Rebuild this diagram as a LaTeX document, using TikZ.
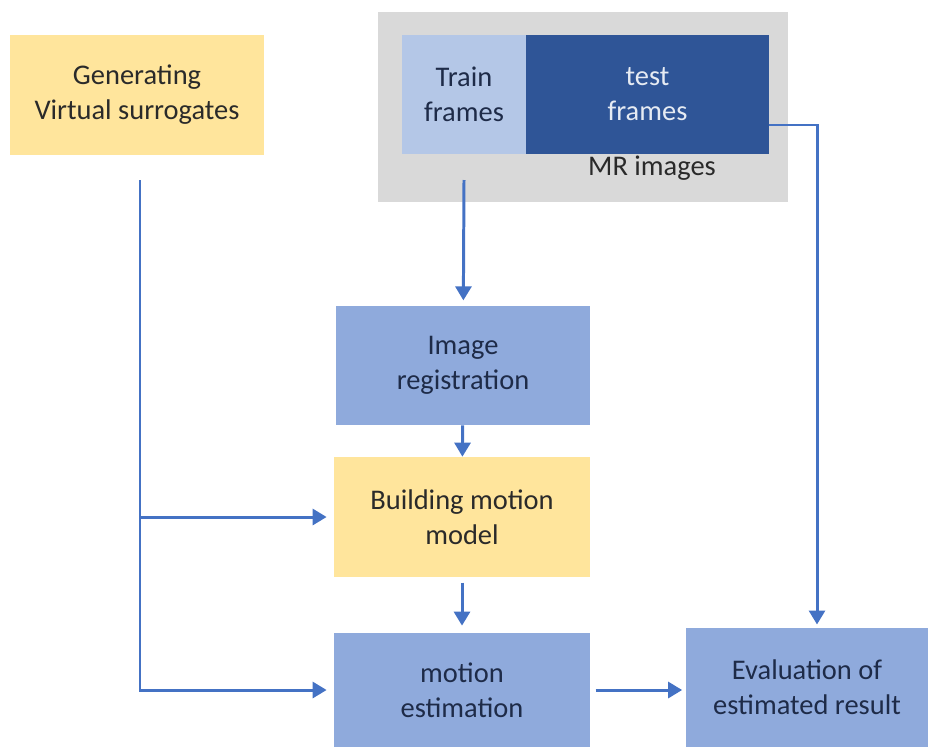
\documentclass[tikz,border=0pt]{standalone}
\usepackage{fontspec}
\setmainfont{Carlito}
\usetikzlibrary{arrows.meta,calc}

\definecolor{boxyellow}{HTML}{FFE59C}
\definecolor{boxblue}{HTML}{8FAADC}
\definecolor{trainblue}{HTML}{B4C7E7}
\definecolor{testblue}{HTML}{2F5597}
\definecolor{framegray}{HTML}{D9D9D9}
\definecolor{flowblue}{HTML}{4472C4}
\definecolor{inkdark}{HTML}{2A2A2A}
\definecolor{inknavy}{HTML}{1E2B48}

\begin{document}
\begin{tikzpicture}[x=0.02cm, y=-0.02cm,
	stage/.style={rectangle, inner sep=0pt, align=center,
		font=\fontsize{16.2}{19.9}\selectfont},
	yellowstage/.style={stage, fill=boxyellow, text=inkdark},
	bluestage/.style={stage, fill=boxblue, text=inknavy},
	flow/.style={draw=flowblue, line width=1.7pt,
		-{Triangle[length=0.28cm, width=0.32cm]}}]

	\useasboundingbox (0,0) rectangle (928,747);

	% input blocks
	\node[yellowstage, minimum width=254*0.02cm, minimum height=120*0.02cm]
	(gen) at (137,95) {Generating\\Virtual surrogates};

	\node[rectangle, fill=framegray, minimum width=410*0.02cm,
	minimum height=190*0.02cm] (mr) at (583,107) {};
	\node[stage, fill=trainblue, text=inknavy, minimum width=124*0.02cm,
	minimum height=119*0.02cm] (train) at (464,94.5) {Train\\frames};
	\node[stage, fill=testblue, text=white!88!testblue, minimum width=243*0.02cm,
	minimum height=119*0.02cm] (test) at (647.5,94.5) {test\\frames};
	\node[stage, text=inkdark] (mrlabel) at (652,168) {MR images};

	% processing chain
	\node[bluestage, minimum width=254*0.02cm, minimum height=119*0.02cm]
	(reg) at (463,365.5) {Image\\registration};
	\node[yellowstage, minimum width=256*0.02cm, minimum height=120*0.02cm]
	(build) at (462,517) {Building motion\\model};
	\node[bluestage, minimum width=256*0.02cm, minimum height=114*0.02cm]
	(est) at (462,690) {motion\\estimation};
	\node[bluestage, minimum width=242*0.02cm, minimum height=119*0.02cm]
	(eval) at (807,687.5) {Evaluation of\\estimated result};

	% free ends of the connectors
	\coordinate (genout) at (140,180);
	\coordinate (trainout) at (464,180);
	\coordinate (testout) at (769,125);
	\coordinate (evalin) at (817,628);

	% connectors
	\draw[flow, shorten >=4pt] (genout) |- (est.west);
	\draw[flow, shorten >=4pt] (genout |- build.west) -- (build.west);
	\draw[flow, shorten >=3pt] (trainout) -- (reg);
	\draw[flow] (reg) -- (build);
	\draw[flow, shorten <=3pt, shorten >=4pt] (build) -- (est);
	\draw[flow, shorten <=3pt, shorten >=2pt] (est.east) -- (eval.west |- est.east);
	\draw[flow, shorten >=2pt] (testout) -| (evalin);

\end{tikzpicture}
\end{document}
